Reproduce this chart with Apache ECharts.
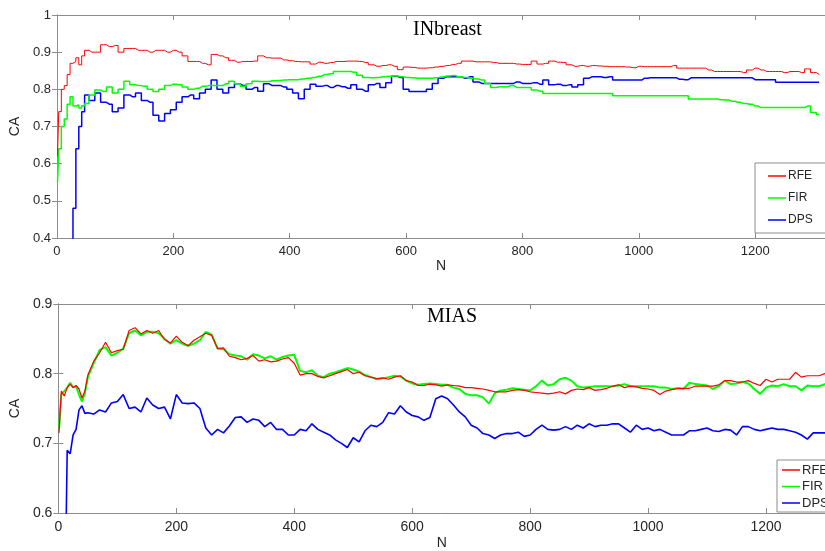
<!DOCTYPE html>
<html>
<head>
<meta charset="utf-8">
<script src="https://cdn.jsdelivr.net/npm/echarts@6/dist/echarts.min.js"></script>
<style>
  html, body { margin: 0; padding: 0; background: #fff; }
  #chart { width: 825px; height: 551px; }
</style>
</head>
<body>
<div id="chart"></div>
<script>
// sample positions (N) shared by every curve
const nValues = [
  1, 5, 10, 15, 20, 25, 30, 35, 40, 45, 50,
  60, 70, 80, 90, 100, 110, 120, 130, 140, 150,
  160, 170, 180, 190, 200, 210, 220, 230, 240, 250,
  260, 270, 280, 290, 300, 310, 320, 330, 340, 350,
  360, 370, 380, 390, 400, 410, 420, 430, 440, 450,
  460, 470, 480, 490, 500, 510, 520, 530, 540, 550,
  560, 570, 580, 590, 600, 610, 620, 630, 640, 650,
  660, 670, 680, 690, 700, 710, 720, 730, 740, 750,
  760, 770, 780, 790, 800, 810, 820, 830, 840, 850,
  860, 870, 880, 890, 900, 910, 920, 930, 940, 950,
  960, 970, 980, 990, 1000, 1010, 1020, 1030, 1040, 1050,
  1060, 1070, 1080, 1090, 1100, 1110, 1120, 1130, 1140, 1150,
  1160, 1170, 1180, 1190, 1200, 1210, 1220, 1230, 1240, 1250,
  1260, 1270, 1280, 1290, 1300, 1310
]

// INbreast
const inbreastRFE = [
  0.62, 0.74, 0.80, 0.81, 0.84, 0.87, 0.875, 0.885, 0.866, 0.89, 0.905,
  0.90, 0.90, 0.92, 0.915, 0.918, 0.90, 0.91, 0.91, 0.905, 0.905,
  0.90, 0.905, 0.905, 0.90, 0.905, 0.90, 0.89, 0.875, 0.875, 0.87,
  0.866, 0.894, 0.89, 0.885, 0.878, 0.873, 0.875, 0.875, 0.876, 0.89,
  0.885, 0.884, 0.884, 0.879, 0.877, 0.875, 0.874, 0.874, 0.868, 0.873,
  0.870, 0.872, 0.875, 0.875, 0.876, 0.876, 0.875, 0.872, 0.866, 0.862,
  0.864, 0.866, 0.862, 0.853, 0.86, 0.859, 0.857, 0.857, 0.858, 0.86,
  0.862, 0.864, 0.867, 0.870, 0.876, 0.876, 0.874, 0.874, 0.874, 0.872,
  0.870, 0.870, 0.870, 0.868, 0.867, 0.867, 0.876, 0.868, 0.870, 0.876,
  0.873, 0.872, 0.866, 0.862, 0.864, 0.862, 0.864, 0.863, 0.862, 0.861,
  0.861, 0.861, 0.860, 0.858, 0.862, 0.861, 0.861, 0.861, 0.861, 0.861,
  0.864, 0.857, 0.857, 0.857, 0.857, 0.857, 0.852, 0.848, 0.848, 0.848,
  0.848, 0.848, 0.845, 0.852, 0.857, 0.852, 0.848, 0.848, 0.848, 0.845,
  0.848, 0.848, 0.845, 0.855, 0.845, 0.84
]
const inbreastFIR = [
  0.55, 0.64, 0.70, 0.72, 0.76, 0.78, 0.755, 0.758, 0.75, 0.756, 0.762,
  0.785, 0.798, 0.794, 0.806, 0.79, 0.80, 0.822, 0.812, 0.81, 0.808,
  0.80, 0.794, 0.80, 0.81, 0.814, 0.812, 0.806, 0.80, 0.803, 0.808,
  0.81, 0.81, 0.81, 0.815, 0.822, 0.815, 0.808, 0.815, 0.822, 0.821,
  0.821, 0.823, 0.824, 0.825, 0.826, 0.826, 0.828, 0.830, 0.832, 0.835,
  0.840, 0.842, 0.848, 0.848, 0.848, 0.846, 0.838, 0.832, 0.831, 0.832,
  0.834, 0.835, 0.836, 0.834, 0.832, 0.831, 0.830, 0.830, 0.830, 0.831,
  0.833, 0.836, 0.837, 0.834, 0.832, 0.83, 0.828, 0.825, 0.816, 0.805,
  0.807, 0.807, 0.81, 0.805, 0.805, 0.805, 0.798, 0.795, 0.789, 0.789,
  0.789, 0.789, 0.789, 0.789, 0.789, 0.789, 0.789, 0.789, 0.789, 0.789,
  0.783, 0.783, 0.783, 0.783, 0.783, 0.783, 0.783, 0.783, 0.783, 0.783,
  0.783, 0.783, 0.783, 0.774, 0.774, 0.774, 0.774, 0.774, 0.772, 0.771,
  0.768, 0.765, 0.762, 0.76, 0.755, 0.751, 0.751, 0.751, 0.751, 0.751,
  0.751, 0.751, 0.751, 0.755, 0.738, 0.732
]
const inbreastDPS = [
  null, null, null, null, null, 0.30, 0.48, 0.64, 0.70, 0.74, 0.785,
  0.77, 0.79, 0.765, 0.76, 0.74, 0.75, 0.785, 0.78, 0.79, 0.77,
  0.765, 0.73, 0.715, 0.735, 0.745, 0.765, 0.78, 0.785, 0.775, 0.79,
  0.80, 0.825, 0.80, 0.79, 0.805, 0.815, 0.81, 0.80, 0.805, 0.795,
  0.815, 0.81, 0.81, 0.806, 0.80, 0.79, 0.775, 0.80, 0.814, 0.808,
  0.81, 0.805, 0.81, 0.807, 0.803, 0.812, 0.80, 0.795, 0.812, 0.816,
  0.805, 0.818, 0.835, 0.832, 0.80, 0.794, 0.794, 0.794, 0.80, 0.816,
  0.83, 0.834, 0.834, 0.834, 0.83, 0.834, 0.82, 0.816, 0.816, 0.816,
  0.816, 0.816, 0.816, 0.82, 0.816, 0.816, 0.818, 0.814, 0.825, 0.812,
  0.814, 0.81, 0.812, 0.806, 0.812, 0.83, 0.834, 0.834, 0.832, 0.834,
  0.825, 0.825, 0.825, 0.825, 0.825, 0.83, 0.831, 0.831, 0.831, 0.831,
  0.831, 0.827, 0.826, 0.831, 0.831, 0.831, 0.831, 0.831, 0.831, 0.831,
  0.831, 0.831, 0.831, 0.831, 0.826, 0.826, 0.826, 0.826, 0.819, 0.819,
  0.819, 0.819, 0.819, 0.819, 0.819, 0.819
]

// MIAS
const miasRFE = [
  0.715, 0.775, 0.768, 0.78, 0.785, 0.78, 0.783, 0.778, 0.765, 0.775, 0.798,
  0.818, 0.83, 0.845, 0.83, 0.833, 0.835, 0.862, 0.866, 0.857, 0.862,
  0.858, 0.862, 0.849, 0.844, 0.854, 0.845, 0.84, 0.848, 0.853, 0.858,
  0.855, 0.836, 0.837, 0.825, 0.823, 0.82, 0.822, 0.826, 0.818, 0.82,
  0.817, 0.818, 0.821, 0.823, 0.815, 0.798, 0.80, 0.80, 0.796, 0.794,
  0.797, 0.80, 0.803, 0.806, 0.80, 0.802, 0.797, 0.795, 0.793, 0.794,
  0.792, 0.795, 0.797, 0.79, 0.788, 0.783, 0.783, 0.785, 0.784, 0.782,
  0.784, 0.783, 0.782, 0.780, 0.780, 0.779, 0.778, 0.776, 0.774, 0.774,
  0.774, 0.776, 0.777, 0.776, 0.774, 0.773, 0.772, 0.771, 0.772, 0.774,
  0.771, 0.776, 0.778, 0.777, 0.780, 0.776, 0.777, 0.779, 0.782, 0.784,
  0.780, 0.782, 0.781, 0.779, 0.778, 0.776, 0.77, 0.775, 0.777, 0.779,
  0.779, 0.779, 0.782, 0.782, 0.782, 0.782, 0.784, 0.790, 0.790, 0.788,
  0.788, 0.790, 0.786, 0.783, 0.792, 0.788, 0.792, 0.792, 0.792, 0.802,
  0.795, 0.797, 0.797, 0.797, 0.80, 0.80
]
const miasFIR = [
  0.72, 0.77, 0.775, 0.78, 0.787, 0.78, 0.782, 0.77, 0.76, 0.772, 0.795,
  0.815, 0.834, 0.838, 0.826, 0.83, 0.836, 0.858, 0.862, 0.855, 0.86,
  0.86, 0.858, 0.85, 0.843, 0.848, 0.843, 0.84, 0.843, 0.848, 0.86,
  0.856, 0.836, 0.835, 0.828, 0.826, 0.825, 0.82, 0.828, 0.826, 0.822,
  0.825, 0.82, 0.824, 0.826, 0.827, 0.804, 0.802, 0.805, 0.797, 0.795,
  0.80, 0.802, 0.805, 0.808, 0.806, 0.803, 0.798, 0.795, 0.792, 0.793,
  0.795, 0.797, 0.796, 0.79, 0.786, 0.784, 0.785, 0.786, 0.785, 0.784,
  0.784, 0.78, 0.778, 0.771, 0.769, 0.769, 0.766, 0.757, 0.772, 0.776,
  0.777, 0.779, 0.778, 0.777, 0.776, 0.782, 0.79, 0.783, 0.785, 0.792,
  0.794, 0.79, 0.782, 0.78, 0.781, 0.782, 0.782, 0.782, 0.782, 0.783,
  0.785, 0.782, 0.782, 0.782, 0.782, 0.782, 0.780, 0.78, 0.778, 0.779,
  0.778, 0.787, 0.785, 0.784, 0.783, 0.778, 0.782, 0.79, 0.785, 0.786,
  0.788, 0.786, 0.778, 0.771, 0.780, 0.783, 0.782, 0.785, 0.782, 0.782,
  0.776, 0.783, 0.782, 0.782, 0.785, 0.785
]
const miasDPS = [
  null, null, 0.40, 0.69, 0.685, 0.712, 0.72, 0.748, 0.754, 0.743, 0.744,
  0.742, 0.748, 0.745, 0.758, 0.76, 0.77, 0.75, 0.752, 0.745, 0.765,
  0.755, 0.75, 0.752, 0.735, 0.77, 0.758, 0.757, 0.758, 0.75, 0.722,
  0.712, 0.72, 0.715, 0.725, 0.737, 0.738, 0.73, 0.735, 0.733, 0.724,
  0.73, 0.72, 0.72, 0.712, 0.712, 0.72, 0.718, 0.728, 0.72, 0.716,
  0.712, 0.705, 0.70, 0.694, 0.708, 0.702, 0.718, 0.726, 0.724, 0.73,
  0.744, 0.742, 0.754, 0.745, 0.74, 0.738, 0.733, 0.737, 0.764, 0.768,
  0.764, 0.755, 0.745, 0.738, 0.726, 0.722, 0.714, 0.712, 0.707, 0.712,
  0.714, 0.714, 0.716, 0.71, 0.712, 0.72, 0.726, 0.72, 0.719, 0.72,
  0.724, 0.72, 0.726, 0.722, 0.728, 0.724, 0.726, 0.726, 0.728, 0.728,
  0.722, 0.716, 0.726, 0.72, 0.722, 0.718, 0.72, 0.716, 0.712, 0.712,
  0.712, 0.718, 0.718, 0.72, 0.722, 0.718, 0.717, 0.72, 0.719, 0.712,
  0.724, 0.724, 0.72, 0.718, 0.72, 0.722, 0.72, 0.72, 0.718, 0.716,
  0.712, 0.706, 0.715, 0.715, 0.715, 0.714
]

const methodNames = ['RFE', 'FIR', 'DPS']
const methodColors = ['#ff0000', '#00ff00', '#0000ff']

const axisGrey = '#8c8c8c'
const textColor = '#262626'
const sansFont = 'Liberation Sans, Arial, sans-serif'
const serifFont = 'Liberation Serif, Times New Roman, serif'

const pairUp = (values) => nValues.map((n, i) => [n, values[i]])

// one main axis pair + a mirrored pair (top/right) for the MATLAB box look
const makeXAxes = (gridIndex, max, fontSize, nameGap) => [
  {
    type: 'value', gridIndex, min: 0, max, interval: 200, position: 'bottom',
    name: 'N', nameLocation: 'middle', nameGap,
    nameTextStyle: { color: textColor, fontFamily: sansFont, fontSize: 14 },
    axisLine: { show: true, lineStyle: { color: axisGrey, width: 1 } },
    axisTick: { show: true, inside: true, length: 5, lineStyle: { color: axisGrey } },
    axisLabel: {
      color: textColor, fontFamily: sansFont, fontSize, margin: 7, showMaxLabel: false,
      formatter: (value) => String(value),
    },
    splitLine: { show: false },
  },
  {
    type: 'value', gridIndex, min: 0, max, interval: 200, position: 'top',
    axisLine: { show: true, lineStyle: { color: axisGrey, width: 1 } },
    axisTick: { show: true, inside: true, length: 5, lineStyle: { color: axisGrey } },
    axisLabel: { show: false },
    splitLine: { show: false },
  },
]
const makeYAxes = (gridIndex, min, max, fontSize, nameGap) => [
  {
    type: 'value', gridIndex, min, max, interval: 0.1, position: 'left',
    name: 'CA', nameLocation: 'middle', nameGap, nameRotate: 90,
    nameTextStyle: { color: textColor, fontFamily: sansFont, fontSize: 14 },
    axisLine: { show: true, lineStyle: { color: axisGrey, width: 1 } },
    axisTick: { show: true, inside: true, length: 5, lineStyle: { color: axisGrey } },
    axisLabel: { color: textColor, fontFamily: sansFont, fontSize, margin: 6 },
    splitLine: { show: false },
  },
  {
    type: 'value', gridIndex, min, max, interval: 0.1, position: 'right',
    axisLine: { show: true, lineStyle: { color: axisGrey, width: 1 } },
    axisTick: { show: true, inside: true, length: 5, lineStyle: { color: axisGrey } },
    axisLabel: { show: false },
    splitLine: { show: false },
  },
]

// INbreast curves are plotted as staircases, MIAS ones as plain polylines
const makeSeries = (axisIndex, valueSets, widths, step) => valueSets.map((values, i) => ({
  name: methodNames[i],
  type: 'line',
  xAxisIndex: axisIndex,
  yAxisIndex: axisIndex,
  data: pairUp(values),
  step,
  symbol: 'none',
  showSymbol: false,
  color: methodColors[i],
  lineStyle: { width: widths[i], color: methodColors[i] },
  emphasis: { disabled: true },
  z: 3 - i,
}))

const makeLegend = (left, top, fontSize, itemGap, padding) => ({
  orient: 'vertical',
  left, top, itemGap, padding,
  data: methodNames,
  icon: 'rect',
  itemWidth: 18,
  itemHeight: 1.5,
  backgroundColor: '#ffffff',
  borderColor: axisGrey,
  borderWidth: 1,
  borderRadius: 0,
  selectedMode: false,
  textStyle: { color: textColor, fontFamily: sansFont, fontSize, lineHeight: 14, padding: [0, 0, 0, -3] },
})

const chart = echarts.init(document.getElementById('chart'), null, { renderer: 'canvas' })
chart.setOption({
  animation: false,
  backgroundColor: '#ffffff',
  title: [
    {
      text: 'INbreast', left: 413, top: 20, padding: 0,
      textStyle: { fontFamily: serifFont, fontSize: 20, fontWeight: 'normal', color: '#000' },
    },
    {
      text: 'MIAS', left: 427, top: 307, padding: 0,
      textStyle: { fontFamily: serifFont, fontSize: 20, fontWeight: 'normal', color: '#000' },
    },
  ],
  grid: [
    { left: 51, top: 15, width: 776, height: 223 },
    { left: 53, top: 304, width: 776, height: 212 },
  ],
  xAxis: [...makeXAxes(0, 1320, 13, 19), ...makeXAxes(1, 1300, 14, 23)],
  yAxis: [...makeYAxes(0, 0.4, 1, 13, 28), ...makeYAxes(1, 0.6, 0.9, 14, 30)],
  legend: [
    makeLegend(755, 163, 12, 8, [6, 20, 6, 13]),
    makeLegend(777, 460, 13, 2.5, [3, 20, 2, 5]),
  ],
  series: [
    ...makeSeries(0, [inbreastRFE, inbreastFIR, inbreastDPS], [1, 1.5, 1.5], 'middle'),
    ...makeSeries(2, [miasRFE, miasFIR, miasDPS], [1.2, 2, 1.6], false),
  ],
})
</script>
</body>
</html>
